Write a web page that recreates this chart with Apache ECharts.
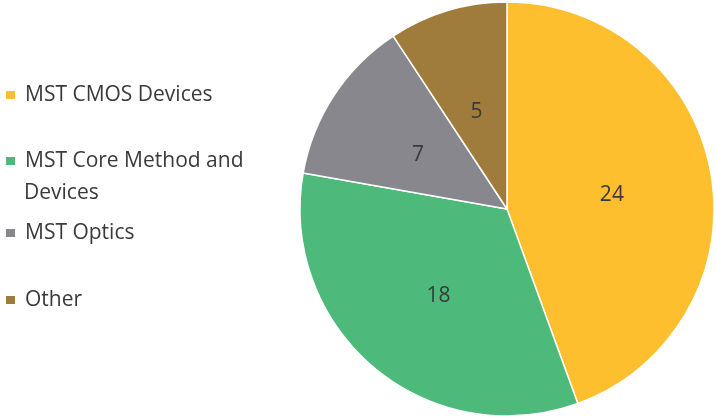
<!DOCTYPE html>
<html>
<head>
<meta charset="utf-8">
<script src="https://cdn.jsdelivr.net/npm/echarts@6/dist/echarts.min.js"></script>
<style>
  html, body { margin: 0; padding: 0; background: #fff; }
  #pieChart { width: 716px; height: 419px; }
</style>
</head>
<body>
<div id="pieChart"></div>
<script>
// data
var names = ['MST CMOS Devices', 'MST Core Method and Devices', 'MST Optics', 'Other'];
var values = [24, 18, 7, 5];
var colors = ['#FDBF2D', '#4DBA7B', '#88878D', '#A07C3C'];

var font = '"Open Sans", sans-serif';
var textColor = '#3a3a3a';

// one legend per item, the spacing is not even in the original
var legendTops = [81, 147, 219, 286];
var legends = names.map(function (n, i) {
    return {
        data: [n],
        left: 4,
        top: legendTops[i],
        padding: 0,
        orient: 'vertical',
        icon: 'rect',
        itemWidth: 11,
        itemHeight: 10,
        selectedMode: false,
        formatter: function (name) {
            // second line of the long name is drawn as a graphic below
            return name == 'MST Core Method and Devices' ? 'MST Core Method and' : name;
        },
        textStyle: {
            fontFamily: font,
            fontSize: 21,
            lineHeight: 28,
            color: textColor,
            padding: [0, 0, 0, 4]
        }
    };
});

var option = {
    animation: false,
    color: colors,
    legend: legends,
    graphic: [{
        type: 'text',
        left: 24,
        top: 183,
        style: {
            text: 'Devices',
            font: '21px ' + font,
            fill: textColor
        }
    }],
    series: [{
        type: 'pie',
        center: [507, 209],
        radius: 207,
        startAngle: 90,
        clockwise: true,
        itemStyle: {
            borderColor: '#ffffff',
            borderWidth: 1.5
        },
        label: {
            show: true,
            position: 'inside',
            formatter: '{c}',
            fontFamily: font,
            fontSize: 21,
            color: textColor,
            offset: [0, 5]
        },
        labelLine: { show: false },
        emphasis: { disabled: true },
        data: names.map(function (n, i) {
            return { name: n, value: values[i] };
        })
    }]
};

var chart = echarts.init(document.getElementById('pieChart'));
chart.setOption(option);
</script>
</body>
</html>
